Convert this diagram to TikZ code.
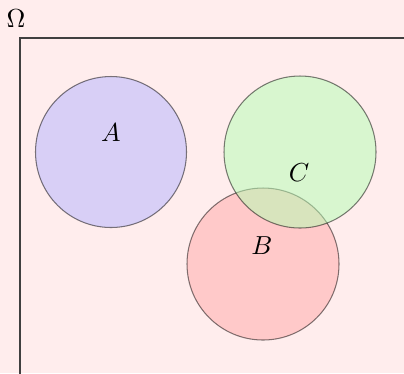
\documentclass[tikz,border=0pt]{standalone}
\usepackage{tikz}

\begin{document}
\begin{tikzpicture}[x=0.0135cm, y=-0.0135cm,
  evset/.style={draw=black, draw opacity=0.5, fill opacity=0.5, line width=0.4pt},
  lbl/.style={inner sep=0pt}]
  % background and clipping window
  \fill[red!7] (0,0) rectangle (404,373);
  \clip (0,0) rectangle (404,373);
  % sample space
  \draw[semithick, black!75] (20,440) |- (440,38);
  \node[lbl] (omega) at (16,19) {$\Omega$};
  % events
  \draw[evset, fill=blue!30] (111,152) circle (75.5);
  \draw[evset, fill=red!35] (263,264) circle (76);
  \draw[evset, fill=green!30] (300,152) circle (76);
  \node[lbl] (la) at (111,133) {$A$};
  \node[lbl] (lb) at (262,246) {$B$};
  \node[lbl] (lc) at (299,173) {$C$};
\end{tikzpicture}
\end{document}
